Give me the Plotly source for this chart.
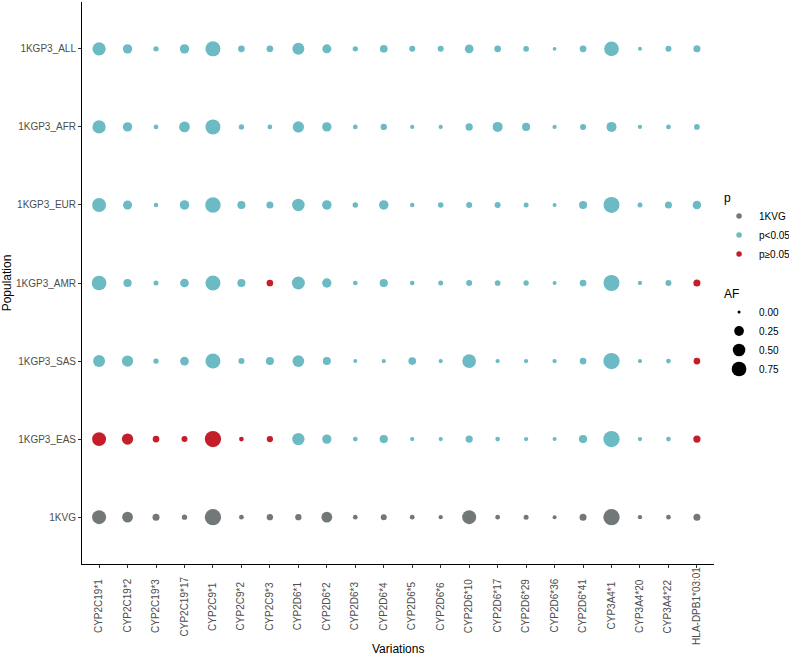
import math
import plotly.graph_objects as go

variations = ["CYP2C19*1", "CYP2C19*2", "CYP2C19*3", "CYP2C19*17", "CYP2C9*1", "CYP2C9*2",
              "CYP2C9*3", "CYP2D6*1", "CYP2D6*2", "CYP2D6*3", "CYP2D6*4", "CYP2D6*5",
              "CYP2D6*6", "CYP2D6*10", "CYP2D6*17", "CYP2D6*29", "CYP2D6*36", "CYP2D6*41",
              "CYP3A4*1", "CYP3A4*20", "CYP3A4*22", "HLA-DPB1*03:01"]

populations = ["1KVG", "1KGP3_EAS", "1KGP3_SAS", "1KGP3_AMR", "1KGP3_EUR", "1KGP3_AFR", "1KGP3_ALL"]

af_all = [0.58, 0.22, 0.03, 0.22, 0.79, 0.075, 0.075, 0.44, 0.20, 0.03, 0.12, 0.05, 0.05, 0.18, 0.075, 0.04, 0.003, 0.075, 0.75, 0.006, 0.05, 0.09]
af_afr = [0.58, 0.22, 0.016, 0.33, 0.79, 0.03, 0.016, 0.38, 0.22, 0.016, 0.06, 0.009, 0.009, 0.10, 0.27, 0.14, 0.009, 0.05, 0.27, 0.009, 0.016, 0.04]
af_eur = [0.66, 0.20, 0.012, 0.23, 0.86, 0.14, 0.09, 0.50, 0.23, 0.034, 0.23, 0.012, 0.034, 0.05, 0.05, 0.022, 0.0055, 0.14, 0.93, 0.022, 0.09, 0.17]
af_amr = [0.75, 0.15, 0.022, 0.18, 0.79, 0.14, 0.075, 0.55, 0.22, 0.016, 0.15, 0.016, 0.022, 0.05, 0.04, 0.03, 0.0055, 0.075, 0.93, 0.009, 0.05, 0.09]
af_sas = [0.44, 0.38, 0.03, 0.18, 0.79, 0.05, 0.14, 0.42, 0.14, 0.0055, 0.009, 0.12, 0.009, 0.63, 0.009, 0.009, 0.009, 0.075, 0.97, 0.009, 0.016, 0.075]
af_eas = [0.66, 0.38, 0.075, 0.05, 0.97, 0.016, 0.06, 0.48, 0.22, 0.016, 0.15, 0.009, 0.009, 0.10, 0.016, 0.009, 0.0055, 0.15, 0.97, 0.009, 0.016, 0.10]
af_kvg = [0.66, 0.33, 0.088, 0.03, 0.97, 0.016, 0.06, 0.06, 0.33, 0.016, 0.05, 0.016, 0.009, 0.66, 0.016, 0.022, 0.0055, 0.088, 0.97, 0.009, 0.016, 0.088]

# significance class: p>=0.05 entries listed as (population, variation)
p_ge_005 = [("1KGP3_EAS", v) for v in ["CYP2C19*1", "CYP2C19*2", "CYP2C19*3", "CYP2C19*17",
                                         "CYP2C9*1", "CYP2C9*2", "CYP2C9*3", "HLA-DPB1*03:01"]] + \
           [("1KGP3_AMR", "CYP2C9*3"), ("1KGP3_AMR", "HLA-DPB1*03:01"),
            ("1KGP3_SAS", "HLA-DPB1*03:01")]

af_legend_breaks = [0.00, 0.25, 0.50, 0.75]
p_levels = ["1KVG", "p<0.05", "p≥0.05"]

colors = {"1KVG": "#717877", "p<0.05": "#6CBAC3", "p≥0.05": "#C41E2A"}


def dsize(v):
    return 3 + 13.5 * math.sqrt(v)


af_by_pop = {"1KGP3_ALL": af_all, "1KGP3_AFR": af_afr, "1KGP3_EUR": af_eur, "1KGP3_AMR": af_amr,
             "1KGP3_SAS": af_sas, "1KGP3_EAS": af_eas, "1KVG": af_kvg}

pts = {k: {"x": [], "y": [], "s": [], "af": []} for k in p_levels}
for pop in populations:
    for v, af in zip(variations, af_by_pop[pop]):
        if pop == "1KVG":
            cls = "1KVG"
        elif (pop, v) in p_ge_005:
            cls = "p≥0.05"
        else:
            cls = "p<0.05"
        pts[cls]["x"].append(v)
        pts[cls]["y"].append(pop)
        pts[cls]["s"].append(dsize(af))
        pts[cls]["af"].append(af)

fig = go.Figure()
for cls in p_levels:
    d = pts[cls]
    fig.add_trace(go.Scatter(
        x=d["x"], y=d["y"], mode="markers", showlegend=False,
        marker=dict(size=d["s"], sizemode="diameter", color=colors[cls], line=dict(width=0), opacity=1),
        customdata=d["af"], hovertemplate="%{x}<br>%{y}<br>AF=%{customdata}<extra>" + cls + "</extra>"))

for i, cls in enumerate(p_levels):
    fig.add_trace(go.Scatter(
        x=[None], y=[None], mode="markers", name=cls, legendgroup="p",
        legendgrouptitle=dict(text="p", font=dict(size=12, color="black")) if i == 0 else None,
        marker=dict(size=5.5, color=colors[cls], line=dict(width=0))))

for i, b in enumerate(af_legend_breaks):
    fig.add_trace(go.Scatter(
        x=[None], y=[None], mode="markers", name=f"{b:.2f}", legendgroup="AF",
        legendgrouptitle=dict(text="AF", font=dict(size=12, color="black")) if i == 0 else None,
        marker=dict(size=dsize(b), color="black", line=dict(width=0))))

FONT = "Liberation Sans, Arial, sans-serif"
tickfont = dict(family=FONT, size=10, color="#4D4D4D")

# x tick labels: rotated and centred on a common line, as in the reference
for v in variations:
    fig.add_annotation(x=v, xref="x", y=-0.0747, yref="paper", text=v, textangle=-90,
                       showarrow=False, xanchor="center", yanchor="middle", font=tickfont)

fig.add_annotation(x=0.5, xref="paper", y=-0.152, yref="paper", text="Variations",
                   showarrow=False, xanchor="center", yanchor="middle",
                   font=dict(family=FONT, size=12, color="black"))

fig.update_layout(
    width=789, height=661,
    margin=dict(l=82, r=75, t=2, b=97, autoexpand=False),
    plot_bgcolor="white", paper_bgcolor="white",
    font=dict(family=FONT, size=11, color="black"),
    showlegend=True,
    legend=dict(x=1.008, xanchor="left", y=0.5, yanchor="middle",
                traceorder="grouped", tracegroupgap=20,
                font=dict(size=10, color="black"), itemsizing="trace",
                bgcolor="rgba(0,0,0,0)"),
    xaxis=dict(type="category", categoryorder="array", categoryarray=variations,
               range=[-0.6, len(variations) - 0.4],
               showline=True, linecolor="black", linewidth=1, mirror=False,
               ticks="outside", ticklen=3, tickcolor="#333333", tickwidth=1,
               showticklabels=False, showgrid=False, zeroline=False),
    yaxis=dict(type="category", categoryorder="array", categoryarray=populations,
               range=[-0.6, len(populations) - 0.4],
               showline=True, linecolor="black", linewidth=1, mirror=False,
               ticks="outside", ticklen=3, tickcolor="#333333", tickwidth=1,
               tickfont=tickfont, showgrid=False, zeroline=False,
               title=dict(text="Population", font=dict(size=12, color="black"), standoff=4)),
)

fig.write_html("out.html")
